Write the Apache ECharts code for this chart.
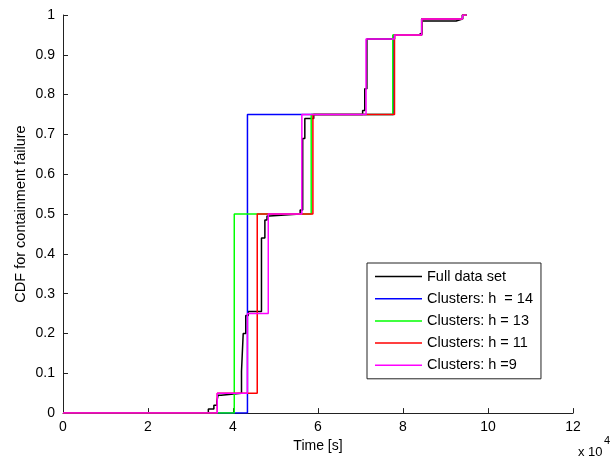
<!DOCTYPE html>
<html>
<head>
<meta charset="utf-8">
<script src="https://cdn.jsdelivr.net/npm/echarts@6/dist/echarts.min.js"></script>
<style>
  html, body { margin: 0; padding: 0; background: #fff; }
  #container { width: 610px; height: 458px; }
</style>
</head>
<body>
<div id="container"></div>
<script>
// time in units of 1e4 s, CDF value after the step
const fullData = [
  [0, 0], [3.42, 0.01], [3.55, 0.02], [3.62, 0.03], [3.65, 0.045], [3.72, 0.05],
  [4.2, 0.105], [4.24, 0.2], [4.3, 0.245], [4.36, 0.255], [4.67, 0.44],
  [4.75, 0.485], [4.8, 0.495], [4.86, 0.5], [5.58, 0.51], [5.64, 0.69],
  [5.69, 0.74], [5.9, 0.75], [7.05, 0.76], [7.1, 0.815], [7.15, 0.94],
  [7.8, 0.95], [8.37, 0.955], [8.45, 0.985], [9.25, 0.99], [9.4, 1], [9.5, 1]
];
const clusters14 = [[0, 0], [4.34, 0.75], [7.78, 0.95], [8.44, 0.99], [9.4, 1], [9.5, 1]];
const clusters13 = [[0, 0], [4.03, 0.5], [5.84, 0.75], [7.76, 0.95], [8.44, 0.99], [9.4, 1], [9.5, 1]];
const clusters11 = [[0, 0], [3.63, 0.05], [4.57, 0.5], [5.88, 0.75], [7.8, 0.95], [8.44, 0.99], [9.4, 1], [9.5, 1]];
const clusters9 = [[0, 0], [3.63, 0.05], [4.34, 0.25], [4.83, 0.5], [5.62, 0.75], [7.13, 0.94], [7.8, 0.95], [8.44, 0.99], [9.4, 1], [9.5, 1]];

const seriesNames = ["Full data set", "Clusters: h  = 14", "Clusters: h = 13", "Clusters: h = 11", "Clusters: h =9"];
const seriesColors = ["#000000", "#0000ff", "#00ff00", "#ff0000", "#ff00ff"];
const seriesData = [fullData, clusters14, clusters13, clusters11, clusters9];

const font = "'Liberation Sans', Arial, sans-serif";
const axisColor = "#222";

const chart = echarts.init(document.getElementById("container"), null, { renderer: "canvas" });

chart.setOption({
  animation: false,
  backgroundColor: "#fff",
  grid: { left: 63, right: 37, top: 15, bottom: 43, containLabel: false },
  legend: {
    orient: "vertical",
    left: 367,
    top: 263,
    width: 173,
    padding: [6, 8, 6, 8],
    itemGap: 7.2,
    itemWidth: 47,
    itemHeight: 14,
    borderColor: "#222",
    borderWidth: 1,
    backgroundColor: "#fff",
    textStyle: { fontFamily: font, fontSize: 14.5, color: "#000" },
    data: seriesNames.map((n, i) => ({
      name: n,
      icon: "path://M0,0 L47,0 L47,1.5 L0,1.5 Z",
      itemStyle: { color: seriesColors[i], borderWidth: 0 }
    }))
  },
  xAxis: {
    type: "value",
    min: 0,
    max: 12,
    interval: 2,
    name: "Time [s]",
    nameLocation: "middle",
    nameGap: 25,
    nameTextStyle: { fontFamily: font, fontSize: 14, color: "#000" },
    axisLine: { show: true, lineStyle: { color: axisColor, width: 1 } },
    axisTick: { show: true, inside: true, length: 5, lineStyle: { color: axisColor } },
    axisLabel: { fontFamily: font, fontSize: 14, color: "#000", margin: 7 },
    splitLine: { show: false }
  },
  yAxis: {
    type: "value",
    min: 0,
    max: 1,
    interval: 0.1,
    name: "CDF for containment failure",
    nameLocation: "middle",
    nameGap: 35,
    nameMoveOverlap: false,
    nameTextStyle: { fontFamily: font, fontSize: 14.5, color: "#000" },
    axisLine: { show: true, lineStyle: { color: axisColor, width: 1 } },
    axisTick: { show: true, inside: true, length: 5, lineStyle: { color: axisColor } },
    axisLabel: { fontFamily: font, fontSize: 14, color: "#000", margin: 8 },
    splitLine: { show: false }
  },
  graphic: [
    { type: "text", left: 578, top: 446, style: { text: "x 10", font: "13px " + font, fill: "#000" } },
    { type: "text", left: 604, top: 435, style: { text: "4", font: "11px " + font, fill: "#000" } }
  ],
  series: seriesNames.map((name, i) => ({
    name: name,
    type: "line",
    step: "end",
    symbol: "none",
    data: seriesData[i],
    lineStyle: { color: seriesColors[i], width: 1.5 },
    itemStyle: { color: seriesColors[i] }
  }))
});
</script>
</body>
</html>
